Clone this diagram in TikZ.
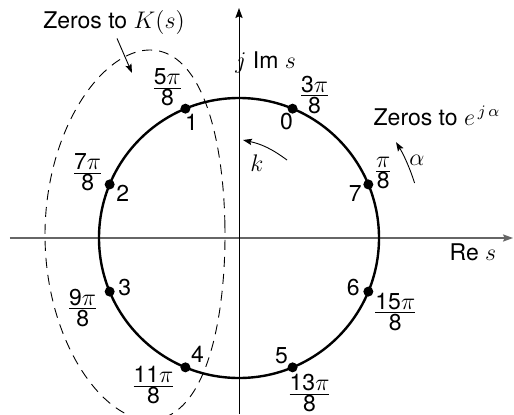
\documentclass[tikz,border=0pt]{standalone}
\usepackage{fontspec}
\setmainfont{TeX Gyre Heros}
\usetikzlibrary{arrows.meta,positioning,calc}

\newcommand{\pifrac}[1]{$\frac{\mbox{#1$\pi$}}{\mbox{8}}$}

\begin{document}
\begin{tikzpicture}[
    x=0.5pt, y=0.5pt,
    every node/.style={font=\fontsize{11.5}{13}\selectfont, inner sep=0pt},
    dot/.style={circle, fill=black, minimum size=5pt, inner sep=0pt},
    axis/.style={-{Stealth[length=5pt,width=3.6pt,inset=0.8pt]}, line width=0.55pt},
    arr/.style={-{Stealth[length=4.5pt,width=3.2pt,inset=0.8pt]}, line width=0.45pt},
    zeroline/.style={dash pattern=on 5pt off 3.5pt, line width=0.45pt},
  ]
  \useasboundingbox[fill=white] (-239,-176) rectangle (275,238);

  % axes
  \coordinate (xl) at (-229,0);
  \coordinate (xr) at (274,0);
  \coordinate (yb) at (0,-176);
  \coordinate (yt) at (0,230);
  \draw[axis, black!60] (xl) -- (xr);
  \draw[axis, line width=0.45pt] (yb) -- (yt);
  \node[anchor=west] (im) at (-4,176) {$j$ Im $s$};
  \node (re) at (234,-14) {Re $s$};

  % unit circle and the eight zeros
  \draw[line width=1.2pt] (0,0) circle[radius=140];
  \foreach \k in {0,...,7}
    \node[dot] (p\k) at ({(2*\k+3)*22.5}:140) {};

  \node at ($(p0)+(-6,-13)$) {0};
  \node at ($(p1)+(6,-14)$)  {1};
  \node at ($(p2)+(13,-9)$)  {2};
  \node at ($(p3)+(15,4)$)   {3};
  \node at ($(p4)+(12,13)$)  {4};
  \node at ($(p5)+(-11,12)$) {5};
  \node at ($(p6)+(-15,4)$)  {6};
  \node at ($(p7)+(-13,-9)$) {7};

  \node at ($(p0)+(22,14)$)   {\pifrac{3}};
  \node at ($(p1)+(-18,21)$)  {\pifrac{5}};
  \node at ($(p2)+(-22,12)$)  {\pifrac{7}};
  \node at ($(p3)+(-27,-16)$) {\pifrac{9}};
  \node at ($(p4)+(-32,-18)$) {\pifrac{11}};
  \node at ($(p5)+(17,-26)$)  {\pifrac{13}};
  \node at ($(p6)+(27,-20)$)  {\pifrac{15}};
  \node at ($(p7)+(15,11)$)   {\pifrac{}};

  % zeros of K(s)
  \begin{scope}
    \clip (-239,-176) rectangle (275,238);
    \draw[zeroline] plot[domain=0:360, samples=120, smooth cycle, variable=\t]
      ({-104+15*sin(\t)^2+90*cos(\t)}, {3+185*sin(\t)});
  \end{scope}
  \node (zk) at (-125,216) {Zeros to $K(s)$};
  \coordinate (ktip) at (-107,165);
  \draw[arr] ([xshift=1.5pt, yshift=-2pt]zk.south) -- (ktip);

  % rotation by alpha
  \node (ze) at (198,122) {Zeros to $e^{\,j\,\alpha}$};
  \coordinate (a0) at (17.4:184);
  \draw[arr] (a0) arc[start angle=17.4, end angle=31.4, radius=184];
  \node (al) at (178,78) {$\alpha$};

  % index k
  \coordinate (k0) at (48,78);
  \coordinate (k1) at (4,98);
  \draw[arr] (k0) to[bend right=12] (k1);
  \node (kl) at (18,75) {$k$};
\end{tikzpicture}
\end{document}
